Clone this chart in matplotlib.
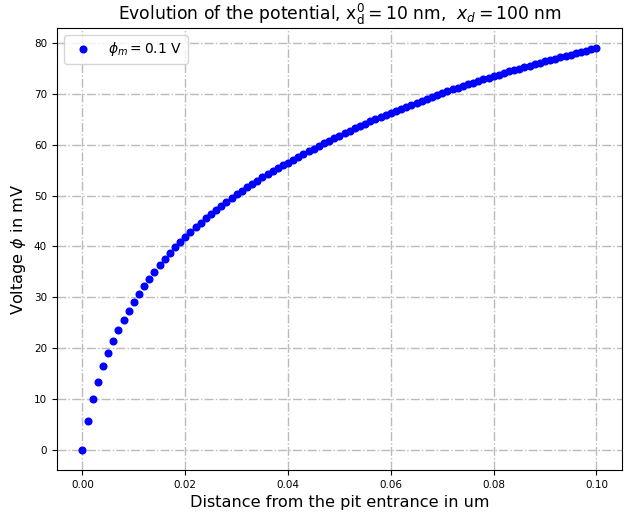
import numpy as np
import matplotlib
matplotlib.use('Agg')
import matplotlib.pyplot as plt

# Data
x = np.arange(101) * 0.001
phi = [0.0, 5.7, 10.0, 13.4, 16.4, 19.1, 21.4, 23.5, 25.5, 27.4,
       29.1, 30.7, 32.2, 33.6, 35.0, 36.3, 37.5, 38.7, 39.8, 40.9,
       41.9, 42.85, 43.78, 44.68, 45.55, 46.4, 47.23, 48.04, 48.82, 49.58,
       50.3, 50.99, 51.66, 52.31, 52.94, 53.56, 54.17, 54.77, 55.36, 55.94,
       56.5, 57.06, 57.61, 58.15, 58.69, 59.22, 59.75, 60.27, 60.79, 61.3,
       61.8, 62.28, 62.75, 63.21, 63.67, 64.12, 64.57, 65.01, 65.45, 65.88,
       66.3, 66.71, 67.11, 67.51, 67.9, 68.29, 68.68, 69.06, 69.44, 69.82,
       70.2, 70.55, 70.89, 71.23, 71.56, 71.89, 72.22, 72.54, 72.86, 73.18,
       73.5, 73.8, 74.1, 74.4, 74.69, 74.98, 75.27, 75.56, 75.84, 76.12,
       76.4, 76.67, 76.94, 77.2, 77.46, 77.72, 77.98, 78.24, 78.5, 78.75,
       79.0]

fig = plt.figure(figsize=(6.24, 5.14), dpi=100)
ax = fig.add_axes([0.091, 0.0856, 0.906, 0.86])

ax.plot(x, phi, 'bo', markersize=4.8, label=r'$\phi_m = 0.1$ V')

ax.set_title(r'Evolution of the potential, $\mathrm{x_d^0} = 10$ nm, $\ x_d = 100$ nm', fontsize=12.3)
ax.set_xlabel('Distance from the pit entrance in um', fontsize=11.6)
ax.set_ylabel(r'Voltage $\phi$ in mV', fontsize=11.6)
ax.tick_params(labelsize=7.5)
ax.grid(True, linestyle='-.', color='#bbbbbb', linewidth=1)
ax.legend(loc='upper left', fontsize=10)

fig.savefig('out.png', dpi=100)
